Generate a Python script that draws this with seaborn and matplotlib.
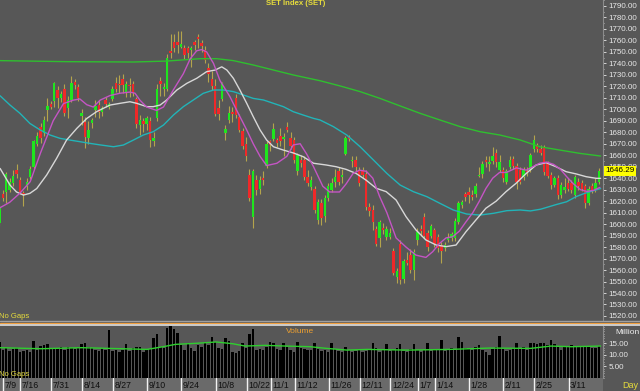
import numpy as np
import pandas as pd
import matplotlib
matplotlib.use("Agg")
import matplotlib.pyplot as plt
import matplotlib.transforms as mtransforms
from matplotlib.lines import Line2D
from matplotlib.ticker import FixedLocator, MultipleLocator
import seaborn as sns

# ---- daily candles, 7/6 .. 3/22 ----
opens = [1601, 1626, 1628, 1630, 1636, 1647, 1638, 1627, 1633, 1641,
         1650, 1670, 1685, 1679, 1699, 1705, 1707, 1717, 1710, 1718,
         1701, 1708, 1724, 1719, 1694, 1689, 1675, 1688, 1699, 1704,
         1698, 1708, 1702, 1709, 1723, 1722, 1726, 1714, 1721, 1722,
         1709, 1686, 1690, 1687, 1690, 1672, 1692, 1725, 1718, 1718,
         1751, 1759, 1759, 1754, 1753, 1753, 1752, 1759, 1763, 1758,
         1752, 1736, 1726, 1720, 1701, 1709, 1679, 1691, 1698, 1710,
         1693, 1681, 1670, 1643, 1606, 1638, 1631, 1640, 1651, 1672,
         1674, 1673, 1677, 1674, 1685, 1675, 1673, 1646, 1656, 1656,
         1641, 1632, 1631, 1604, 1618, 1607, 1623, 1630, 1637, 1646,
         1641, 1661, 1676, 1655, 1656, 1647, 1647, 1644, 1615, 1612,
         1596, 1588, 1597, 1589, 1589, 1577, 1554, 1583, 1552, 1569,
         1573, 1560, 1586, 1596, 1606, 1592, 1590, 1595, 1589, 1582,
         1579, 1586, 1588, 1588, 1602, 1617, 1626, 1628, 1625, 1626,
         1642, 1644, 1656, 1652, 1655, 1662, 1647, 1647, 1637, 1650,
         1657, 1651, 1647, 1641, 1646, 1647, 1665, 1669, 1665, 1667,
         1653, 1643, 1634, 1640, 1625, 1630, 1636, 1636, 1625, 1637,
         1636, 1633, 1618, 1633, 1631, 1637]
highs = [1617, 1630, 1645, 1640, 1647, 1652, 1641, 1629, 1640, 1651,
         1673, 1680, 1688, 1694, 1710, 1707, 1724, 1720, 1716, 1722,
         1712, 1729, 1726, 1722, 1700, 1693, 1690, 1692, 1708, 1708,
         1703, 1711, 1706, 1720, 1728, 1730, 1731, 1725, 1727, 1725,
         1711, 1695, 1692, 1694, 1693, 1680, 1722, 1728, 1723, 1748,
         1766, 1766, 1768, 1768, 1756, 1755, 1755, 1760, 1766, 1760,
         1755, 1740, 1733, 1726, 1708, 1724, 1686, 1703, 1702, 1713,
         1696, 1684, 1676, 1648, 1648, 1643, 1642, 1646, 1672, 1673,
         1688, 1675, 1684, 1679, 1689, 1680, 1676, 1662, 1660, 1659,
         1647, 1642, 1633, 1622, 1622, 1625, 1636, 1640, 1648, 1650,
         1648, 1677, 1678, 1659, 1659, 1650, 1650, 1647, 1618, 1617,
         1598, 1604, 1601, 1598, 1597, 1579, 1562, 1586, 1570, 1576,
         1578, 1578, 1597, 1599, 1610, 1595, 1600, 1597, 1591, 1584,
         1584, 1592, 1593, 1605, 1620, 1621, 1628, 1632, 1630, 1636,
         1650, 1655, 1659, 1659, 1667, 1665, 1660, 1650, 1648, 1659,
         1659, 1653, 1650, 1650, 1650, 1662, 1678, 1671, 1669, 1669,
         1655, 1645, 1642, 1643, 1637, 1640, 1640, 1638, 1643, 1640,
         1638, 1635, 1633, 1636, 1640, 1649]
lows = [1598, 1620, 1618, 1628, 1633, 1640, 1626, 1616, 1630, 1639,
        1648, 1668, 1671, 1677, 1690, 1700, 1702, 1701, 1706, 1694,
        1692, 1706, 1718, 1707, 1686, 1666, 1670, 1684, 1693, 1692,
        1694, 1702, 1700, 1707, 1715, 1714, 1714, 1711, 1711, 1712,
        1684, 1678, 1680, 1682, 1667, 1668, 1690, 1712, 1712, 1716,
        1745, 1750, 1749, 1753, 1744, 1745, 1737, 1752, 1753, 1750,
        1740, 1724, 1717, 1694, 1691, 1707, 1673, 1688, 1689, 1692,
        1680, 1665, 1655, 1620, 1597, 1625, 1626, 1634, 1649, 1664,
        1672, 1667, 1668, 1659, 1680, 1665, 1653, 1643, 1650, 1638,
        1633, 1630, 1610, 1600, 1599, 1602, 1620, 1628, 1632, 1634,
        1636, 1660, 1672, 1650, 1646, 1633, 1640, 1612, 1607, 1595,
        1581, 1580, 1591, 1586, 1587, 1556, 1549, 1548, 1549, 1564,
        1557, 1551, 1582, 1590, 1588, 1577, 1588, 1580, 1576, 1566,
        1577, 1584, 1585, 1585, 1600, 1614, 1620, 1618, 1621, 1624,
        1641, 1640, 1650, 1646, 1652, 1650, 1645, 1637, 1635, 1648,
        1648, 1631, 1635, 1638, 1642, 1645, 1663, 1663, 1660, 1643,
        1640, 1631, 1632, 1622, 1623, 1627, 1629, 1627, 1623, 1630,
        1629, 1614, 1617, 1627, 1628, 1635]
closes = [1614, 1623, 1644, 1637, 1642, 1644, 1628, 1626, 1637, 1648,
          1672, 1677, 1675, 1691, 1703, 1702, 1723, 1710, 1713, 1697,
          1708, 1723, 1721, 1710, 1697, 1676, 1682, 1691, 1703, 1698,
          1701, 1705, 1705, 1718, 1718, 1721, 1721, 1722, 1720, 1714,
          1687, 1691, 1687, 1692, 1673, 1675, 1718, 1722, 1719, 1745,
          1749, 1753, 1756, 1757, 1747, 1749, 1753, 1756, 1761, 1755,
          1743, 1731, 1720, 1696, 1696, 1723, 1683, 1697, 1696, 1695,
          1682, 1668, 1659, 1623, 1646, 1630, 1638, 1638, 1670, 1669,
          1683, 1671, 1672, 1676, 1682, 1668, 1656, 1660, 1653, 1641,
          1636, 1638, 1612, 1619, 1605, 1623, 1633, 1636, 1641, 1637,
          1643, 1675, 1674, 1656, 1650, 1636, 1643, 1615, 1611, 1602,
          1583, 1602, 1595, 1596, 1592, 1557, 1559, 1551, 1568, 1566,
          1560, 1576, 1593, 1594, 1590, 1580, 1598, 1583, 1579, 1577,
          1582, 1589, 1591, 1603, 1618, 1619, 1624, 1625, 1624, 1633,
          1643, 1652, 1654, 1654, 1659, 1654, 1654, 1640, 1646, 1656,
          1651, 1637, 1637, 1647, 1645, 1660, 1673, 1665, 1662, 1645,
          1642, 1634, 1640, 1625, 1634, 1632, 1631, 1630, 1641, 1633,
          1631, 1618, 1631, 1630, 1636, 1646.29]
# volume, million shares
volumes = [15.5, 12.0, 12.8, 11.5, 12.5, 13.0, 11.0, 11.5, 12.0, 11.2,
           15.8, 12.0, 13.8, 14.2, 14.5, 12.5, 13.0, 12.8, 13.5, 12.2,
           13.2, 13.0, 12.5, 12.8, 14.5, 14.8, 13.2, 13.0, 11.8, 11.5,
           12.8, 12.0, 20.5, 11.5, 11.8, 11.0, 12.0, 14.5, 11.5, 12.8,
           13.5, 13.5, 11.2, 12.0, 12.5, 17.2, 19.0, 13.5, 13.0, 21.5,
           22.5, 21.0, 19.5, 14.0, 12.0, 15.0, 13.0, 11.5, 14.2, 13.5,
           15.0, 14.0, 17.5, 15.5, 13.0, 12.5, 17.0, 16.0, 11.0, 10.8,
           11.5, 14.8, 13.0, 19.0, 21.0, 12.0, 12.5, 11.8, 13.5, 15.5,
           15.2, 12.5, 11.8, 15.0, 13.5, 12.0, 11.0, 15.5, 13.0, 12.5,
           11.8, 12.2, 15.0, 12.5, 11.5, 12.0, 11.0, 15.0, 12.5, 11.5,
           11.0, 13.5, 12.0, 11.0, 11.5, 12.5, 11.2, 11.5, 12.0, 15.0,
           12.8, 11.0, 12.0, 14.5, 11.5, 12.0, 13.0, 14.5, 11.5, 11.0,
           12.5, 14.5, 12.0, 11.0, 12.0, 15.0, 11.5, 12.5, 12.0, 16.5,
           11.5, 12.5, 13.0, 12.0, 17.5, 15.5, 13.0, 12.5, 12.0, 13.5,
           14.2, 12.0, 11.0, 10.0, 12.5, 13.5, 17.8, 12.5, 11.5, 12.0,
           13.0, 15.2, 12.5, 13.5, 12.0, 14.8, 15.0, 14.5, 15.0, 15.2,
           14.0, 16.5, 14.5, 13.5, 12.0, 13.5, 13.8, 14.0, 13.5, 13.5,
           13.8, 13.5, 13.5, 12.8, 13.0, 13.6]

# moving average lines at candle positions
ma_fast_x = [0, 3, 6, 9, 12, 15.7, 18.7, 21.6, 23.5, 25.5, 27.4, 29.4, 32.3, 35.2, 38.1,
             39.6, 41, 43, 45.9, 47.9, 50.8, 53.7, 55.7, 57.6, 59, 60.5, 62.5, 64.4, 67.3,
             69.3, 72.2, 74.1, 76.1, 78, 81, 83.9, 85.8, 87.8, 89.7, 91.7, 94.4, 96.4, 99.3,
             101.2, 103.2, 105.1, 107.1, 109, 111, 113.1, 115.8, 118.7, 121.6, 124.5, 126.5,
             128.4, 130.4, 132.3, 134.3, 136.2, 138.2, 140.1, 142, 144, 146, 148, 150.9,
             153.8, 155.7, 157.7, 159.8, 161.8, 163.7, 165.7, 167.6, 169.6, 171.5, 173.5, 175.3]
ma_fast_y = [1614, 1619, 1627, 1637, 1662, 1690, 1705, 1708, 1709, 1704, 1702, 1708, 1712, 1714, 1715,
             1714, 1708, 1702, 1699, 1702, 1717, 1731, 1744, 1751, 1752, 1750, 1740, 1725, 1711,
             1699, 1682, 1670, 1659, 1651, 1653, 1659, 1669, 1670, 1661, 1650, 1633, 1628, 1628,
             1635, 1644, 1647, 1646, 1640, 1624, 1610, 1588, 1580, 1573, 1571, 1576,
             1583, 1588, 1589, 1594, 1602, 1610, 1620, 1631, 1640, 1645, 1645, 1649,
             1647, 1650, 1653, 1654, 1652, 1648, 1641, 1635, 1630, 1628.5, 1629.5, 1632]
ma_mid_x = [0.2, 3.1, 5, 7, 8.9, 10.9, 13.8, 16.7, 19.6, 22.6, 25.5, 28.4, 32.3, 35.2, 38.1,
            40.1, 43, 44.9, 46.9, 48.8, 51.8, 54.7, 57.6, 60.5, 63, 64.9, 66.4, 68.3, 70.2,
            72.2, 74.1, 76.1, 78, 80, 82.9, 85.8, 88.7, 91.7, 95.4, 98.3, 101.2, 104.1, 107,
            110, 112.9, 115.8, 118.7, 121.6, 124.5, 127.5, 130.4, 133.3, 136.2, 139.1, 142,
            145, 147.9, 150.8, 153.8, 156.7, 159.6, 162.5, 165.4, 168.4, 171.3, 174.2, 175.5]
ma_mid_y = [1648.5, 1634, 1628, 1625.3, 1626.8, 1631, 1642.8, 1657.3, 1673.2, 1683.4, 1692, 1698,
            1703.7, 1705.2, 1706.6, 1705.2, 1702.3, 1702.3, 1703.7, 1708, 1716.8, 1722.6, 1727,
            1732.8, 1734.2, 1737, 1734.2, 1727, 1716.8, 1705.2, 1693.6, 1682, 1673.3, 1667.4,
            1664.5, 1662, 1658.7, 1653, 1651.5, 1650, 1647.7, 1644.2, 1638.4, 1631.2, 1628.3,
            1621, 1606.5, 1594.9, 1586.2, 1581.8, 1580.4, 1581.8, 1593.4, 1603.6, 1613.8, 1620,
            1628.3, 1635.5, 1644.2, 1651.5, 1653.5, 1650, 1645.7, 1643.7, 1641.3, 1639.9, 1639.9]
ma_slow_x = [0.2, 3.1, 6, 8.9, 11.9, 14.8, 17.7, 20.6, 23.5, 26.5, 29.4, 33.3, 36.2, 39.1, 42,
             44.9, 47.9, 50.8, 53.7, 56.6, 59.5, 62.5, 65.4, 68.3, 71.2, 74.1, 77.1, 80, 82.9,
             85.8, 88.7, 91.7, 93.6, 97.5, 101.4, 105.3, 109.2, 113.1, 117, 120.9, 124.8, 128.6,
             132.5, 136.4, 140.3, 144.2, 148.1, 152, 155, 158, 162.5, 165.6, 168.4, 171, 173.3, 175.5]
ma_slow_y = [1711.8, 1703.7, 1696.5, 1687.7, 1682, 1677.6, 1674.7, 1673.2, 1671.8, 1670.3, 1669,
             1667.4, 1668.9, 1673.2, 1677.6, 1680.5, 1686.3, 1695, 1702.3, 1708.1, 1713.9, 1716.8,
             1716.8, 1715.4, 1712.5, 1709.5, 1708.1, 1705.2, 1702.3, 1697.9, 1695, 1692.1, 1690.7,
             1684.9, 1677.6, 1667.4, 1655.8, 1644.2, 1634, 1628.2, 1623.9, 1618.1, 1612.3, 1608.8,
             1607.9, 1609.4, 1611.7, 1612.3, 1611.5, 1613, 1617, 1619.5, 1624, 1627, 1629, 1631]
ma_long_x = [0.2, 19.6, 39.1, 48.8, 58.6, 63.4, 68.3, 74.1, 80, 85.8, 91.7, 93.6, 99.5, 105.3,
             111.1, 117, 122.8, 128.6, 134.5, 140.3, 146.1, 152, 157.8, 163.6, 169.5, 175.5]
ma_long_y = [1742.4, 1741.5, 1741.2, 1742, 1744.1, 1744.1, 1742.4, 1738.6, 1734.2, 1729.9, 1726.1,
             1724.9, 1720.3, 1715.4, 1709.5, 1702.9, 1696.5, 1690.7, 1684.9, 1680.5, 1677.6,
             1673.3, 1667.4, 1664.5, 1661.6, 1659.3]
vol_ma_x = [0.2, 12.1, 24, 35.9, 43.1, 47.8, 51.4, 57.4, 63.3, 68.1, 71.7, 77.6, 83.6, 90.7,
            95.5, 101.5, 107.4, 119.3, 131.3, 143.2, 155.1, 161, 167, 175.5]
vol_ma_y = [13.0, 12.55, 13.0, 12.55, 12.26, 13.42, 14.43, 14.87, 15.45, 14.7, 13.7, 14.0, 13.7,
            13.42, 12.7, 11.97, 12.26, 11.97, 12.26, 12.84, 12.7, 13.7, 13.42, 13.7]

date_labels = ["7/9", "7/16", "7/31", "8/14", "8/27", "9/10", "9/24", "10/8", "10/22", "11/1",
               "11/12", "11/26", "12/11", "12/24", "1/7", "1/14", "1/28", "2/11", "2/25", "3/11"]
date_idx = [1, 6, 15, 24, 33, 43, 53, 63, 72, 79, 86, 96, 105, 114, 122, 127, 137, 147, 156, 166]

df = pd.DataFrame({"o": opens, "h": highs, "l": lows, "c": closes, "v": volumes})
df["i"] = np.arange(len(df))

BG = "#575757"
GREEN, RED, WICK = "#1ee61e", "#f02828", "#b4a44c"
YEL = "#e6dc3c"

sns.set_theme(style="dark", rc={"axes.facecolor": BG, "figure.facecolor": BG})
plt.rcParams["font.family"] = ["Liberation Sans", "DejaVu Sans"]

W, H = 640, 391
fig = plt.figure(figsize=(6.4, 3.91), dpi=100)


def box(x0, y0, x1, y1):
    # pixel box (top-left origin) -> figure fraction
    return [x0 / W, 1 - y1 / H, (x1 - x0) / W, (y1 - y0) / H]


ax = fig.add_axes(box(0, 0, 603, 320))
axv = fig.add_axes(box(0, 326, 603, 378), sharex=ax)
axd = fig.add_axes(box(0, 378, 603, 391), sharex=ax)

# candles
up = df["c"] >= df["o"]
ax.vlines(df["i"], df["l"], df["h"], color=WICK, lw=0.8, zorder=2)
body = (df["c"] - df["o"]).abs().clip(lower=0.9)
ax.bar(df["i"], body, bottom=df[["o", "c"]].min(axis=1), width=0.72,
       color=np.where(up, GREEN, RED), linewidth=0, zorder=3)

# moving averages
sns.lineplot(x=ma_long_x, y=ma_long_y, ax=ax, color="#2fbf2f", lw=1.0, zorder=4)
sns.lineplot(x=ma_slow_x, y=ma_slow_y, ax=ax, color="#22b4b8", lw=1.0, zorder=4)
sns.lineplot(x=ma_mid_x, y=ma_mid_y, ax=ax, color="#d8d8d8", lw=1.0, zorder=4)
sns.lineplot(x=ma_fast_x, y=ma_fast_y, ax=ax, color="#c455c4", lw=1.0, zorder=4)

ax.set_xlim(0.175, 176.2)
ax.set_ylim(1516.5, 1795.2)
ax.yaxis.tick_right()
ax.yaxis.set_major_locator(FixedLocator(np.arange(1520, 1791, 10)))
ax.yaxis.set_minor_locator(MultipleLocator(5))
ax.set_yticklabels([f"{v:.2f}" for v in np.arange(1520, 1791, 10)])
ax.tick_params(axis="y", which="major", labelsize=5.8, colors="#e8e8e8", length=2, width=0.6, pad=2,
               right=True, left=False)
ax.tick_params(axis="y", which="minor", colors="#e8e8e8", length=1, width=0.5, right=True, left=False)
ax.tick_params(axis="x", bottom=False, labelbottom=False)
ax.set_xlabel("")
ax.set_ylabel("")
for s in ["top", "left", "bottom"]:
    ax.spines[s].set_visible(False)
ax.spines["right"].set_color("#8c8c8c")
ax.spines["right"].set_linewidth(0.8)

# last price tag
tr = mtransforms.blended_transform_factory(ax.transAxes, ax.transData)
ax.text(1.004, closes[-1], f"{closes[-1]:.2f}", transform=tr, fontsize=5.8, color="black",
        ha="left", va="center", clip_on=False, zorder=10,
        bbox=dict(boxstyle="square,pad=0.18", fc="#ffff00", ec="none"))

# volume
axv.bar(df["i"], df["v"], width=0.72, color="black", linewidth=0, zorder=2)
sns.lineplot(x=vol_ma_x, y=vol_ma_y, ax=axv, color="#2fcf2f", lw=1.0, zorder=3)
axv.set_ylim(0, 22.3)
axv.yaxis.tick_right()
axv.set_yticks([5, 10, 15])
axv.set_yticklabels(["5.00", "10.00", "15.00"])
axv.yaxis.set_minor_locator(MultipleLocator(1))
axv.tick_params(axis="y", which="major", labelsize=5.8, colors="#e8e8e8", length=2, width=0.6, pad=2,
                right=True, left=False)
axv.tick_params(axis="y", which="minor", colors="#e8e8e8", length=1, width=0.5, right=True, left=False)
axv.tick_params(axis="x", bottom=False, labelbottom=False)
axv.set_xlabel("")
axv.set_ylabel("")
for s in ["top", "left", "bottom"]:
    axv.spines[s].set_visible(False)
axv.spines["right"].set_color("#8c8c8c")
axv.spines["right"].set_linewidth(0.8)

# date strip
axd.set_facecolor("#6a6a6a")
axd.set_ylim(0, 1)
axd.tick_params(axis="both", left=False, bottom=False, labelleft=False, labelbottom=False)
for s in axd.spines.values():
    s.set_visible(False)
for lab, i in zip(date_labels, date_idx):
    axd.axvline(i + 0.15, color="#f2f2f2", lw=1.0)
    axd.text(i + 0.55, 0.45, lab, fontsize=6.3, color="#101010", ha="left", va="center")

# panel separators and captions
for y, c, w in [(320.8, "#a0a0a0", 1.0), (322.7, "#f0a040", 0.9), (324.8, "#ececec", 1.1)]:
    fig.add_artist(Line2D([0, 1], [1 - y / H, 1 - y / H], transform=fig.transFigure, color=c, lw=w))

fig.text(295.5 / W, 1 - 3.8 / H, "SET Index (SET)", color=YEL, fontsize=5.6, fontweight="bold",
         ha="center", va="center")
fig.text(-1 / W, 1 - 317 / H, "No Gaps", color=YEL, fontsize=5.5, ha="left", va="center")
fig.text(300 / W, 1 - 331.5 / H, "Volume", color="#eea030", fontsize=6, ha="center", va="center")
fig.text(628 / W, 1 - 332 / H, "Million", color="#f0f0f0", fontsize=6, ha="center", va="center")
fig.text(-1 / W, 1 - 374.5 / H, "No Gaps", color=YEL, fontsize=5.5, ha="left", va="center")
fig.text(630 / W, 1 - 385.5 / H, "Day", color=YEL, fontsize=6.5, ha="center", va="center")

fig.savefig("out.png", dpi=100, facecolor=fig.get_facecolor())
